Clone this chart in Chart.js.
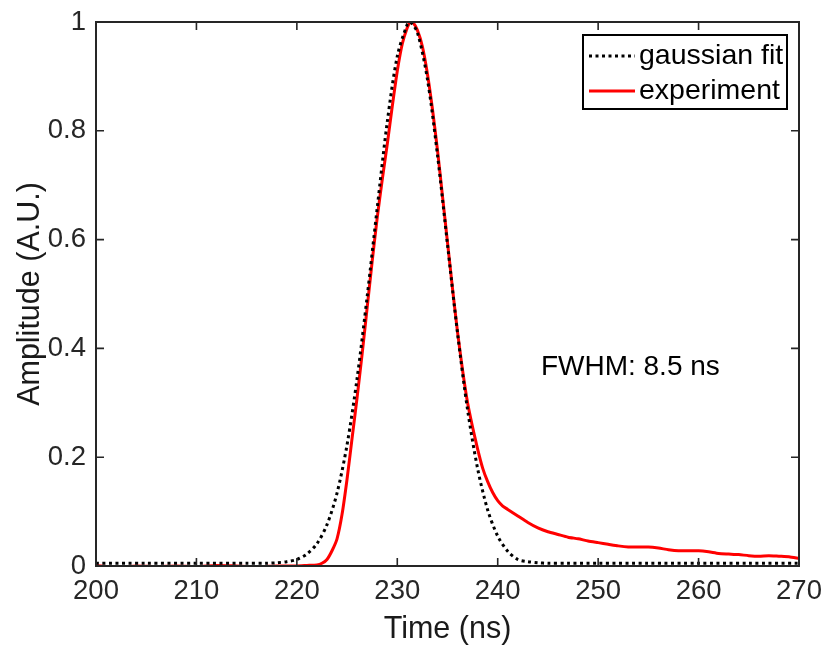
<!DOCTYPE html>
<html>
<head>
<meta charset="utf-8">
<script src="https://cdn.jsdelivr.net/npm/chart.js@4/dist/chart.umd.min.js"></script>
<style>
  html, body { margin: 0; padding: 0; background: #fff; }
  #wrap { width: 825px; height: 651px; }
</style>
</head>
<body>
<div id="wrap"><canvas id="pulseChart" width="825" height="651"></canvas></div>
<script>
const expTime = [200, 202, 204, 206, 208, 210, 212, 214, 216, 218, 220, 221, 222, 222.5, 223, 223.5, 224, 224.5,
  225, 225.5, 226, 226.5, 227, 227.5, 228, 228.5, 229, 229.5, 230, 230.5, 231, 231.3, 231.6, 232, 232.5, 233,
  233.5, 234, 234.5, 235, 235.5, 236, 236.5, 237, 237.5, 238, 238.5, 239, 239.5, 240, 240.5, 241, 242, 243,
  244, 245, 246, 247, 248, 249, 250, 251, 252, 253, 254, 255, 256, 257, 258, 259, 260, 261, 262, 263, 264,
  265, 266, 267, 268, 269, 270];
const expAmp = [0.001, -0.002, 0.000, -0.001, 0.000, -0.001, 0.001, 0.000, -0.001, 0.000, 0.000, 0.001, 0.002, 0.005,
  0.012, 0.028, 0.05, 0.095, 0.16, 0.235, 0.31, 0.39, 0.475, 0.56, 0.64, 0.71, 0.775, 0.845, 0.91, 0.96, 0.99, 1.0,
  0.998, 0.985, 0.955, 0.905, 0.84, 0.765, 0.68, 0.595, 0.51, 0.43, 0.36, 0.30, 0.255, 0.215, 0.18, 0.155, 0.135,
  0.12, 0.11, 0.104, 0.092, 0.08, 0.07, 0.063, 0.058, 0.053, 0.05, 0.046, 0.043, 0.04, 0.037, 0.035, 0.035, 0.035,
  0.033, 0.03, 0.028, 0.028, 0.028, 0.026, 0.023, 0.022, 0.021, 0.019, 0.018, 0.019, 0.018, 0.017, 0.014];

// gaussian fit (black dotted)
const fitTime = [200, 205, 210, 215, 217, 218, 219, 220, 221, 222, 223, 224, 225, 226, 227, 228, 229, 230, 231,
  231.3, 232, 233, 234, 235, 236, 237, 238, 239, 240, 241, 242, 243, 244, 245, 247, 250, 255, 260, 265, 270];
const fitAmp = [0.005, 0.005, 0.005, 0.005, 0.005, 0.006, 0.008, 0.012, 0.022, 0.041, 0.076, 0.134, 0.223, 0.345,
  0.495, 0.658, 0.816, 0.937, 0.996, 1.0, 0.981, 0.895, 0.756, 0.591, 0.428, 0.287, 0.179, 0.103, 0.055, 0.027,
  0.012, 0.008, 0.006, 0.005, 0.005, 0.005, 0.005, 0.005, 0.005, 0.005];

const xTicks = [200, 210, 220, 230, 240, 250, 260, 270];
const yTicks = [0, 0.2, 0.4, 0.6, 0.8, 1];
const yTickLabels = ['0', '0.2', '0.4', '0.6', '0.8', '1'];
const fwhmNote = { x: 244.3, y: 0.366, text: 'FWHM: 8.5 ns' };

const fontFamily = '"Liberation Sans", Arial, Helvetica, sans-serif';
const axisColor = '#262626';

// box, inward ticks, note and legend drawn the MATLAB way
const matlabAxes = {
  id: 'matlabAxes',
  afterDatasetsDraw(chart) {
    const ctx = chart.ctx;
    const { left, right, top, bottom } = chart.chartArea;
    const xs = chart.scales.x, ys = chart.scales.y;
    const tickLen = 8;
    ctx.save();
    ctx.strokeStyle = axisColor;
    ctx.lineWidth = 1.6;
    xTicks.forEach(v => {
      const px = xs.getPixelForValue(v);
      ctx.beginPath();
      ctx.moveTo(px, bottom); ctx.lineTo(px, bottom - tickLen);
      ctx.moveTo(px, top); ctx.lineTo(px, top + tickLen);
      ctx.stroke();
    });
    yTicks.forEach(v => {
      const py = ys.getPixelForValue(v);
      ctx.beginPath();
      ctx.moveTo(left, py); ctx.lineTo(left + tickLen, py);
      ctx.moveTo(right, py); ctx.lineTo(right - tickLen, py);
      ctx.stroke();
    });
    ctx.lineWidth = 2;
    ctx.strokeRect(left, top, right - left, bottom - top);

    // FWHM note
    ctx.fillStyle = '#000';
    ctx.font = '28px ' + fontFamily;
    ctx.textAlign = 'left';
    ctx.textBaseline = 'middle';
    ctx.fillText(fwhmNote.text, xs.getPixelForValue(fwhmNote.x), ys.getPixelForValue(fwhmNote.y));

    // legend box
    const lx = 583, ly = 35, lw = 204, lh = 74;
    ctx.fillStyle = '#fff';
    ctx.fillRect(lx, ly, lw, lh);
    ctx.strokeStyle = '#000';
    ctx.lineWidth = 2;
    ctx.strokeRect(lx, ly, lw, lh);
    const rows = [56, 91];
    chart.data.datasets.forEach((ds, i) => {
      ctx.beginPath();
      ctx.strokeStyle = ds.borderColor;
      ctx.lineWidth = ds.borderWidth;
      ctx.setLineDash(ds.borderDash || []);
      ctx.moveTo(589, rows[i]); ctx.lineTo(635, rows[i]);
      ctx.stroke();
      ctx.setLineDash([]);
      ctx.fillStyle = '#000';
      ctx.font = '28.5px ' + fontFamily;
      ctx.fillText(ds.label, 639, rows[i]);
    });
    ctx.restore();
  }
};

const ctx = document.getElementById('pulseChart').getContext('2d');
new Chart(ctx, {
  type: 'line',
  data: {
    datasets: [{
      label: 'gaussian fit',
      data: fitTime.map((t, i) => ({ x: t, y: fitAmp[i] })),
      borderColor: '#000',
      borderWidth: 3,
      borderDash: [3, 3.5],
      pointRadius: 0,
      tension: 0.3,
      fill: false
    }, {
      label: 'experiment',
      data: expTime.map((t, i) => ({ x: t, y: expAmp[i] })),
      borderColor: '#ff0000',
      borderWidth: 3,
      pointRadius: 0,
      tension: 0.2,
      fill: false
    }]
  },
  options: {
    responsive: false,
    animation: false,
    devicePixelRatio: 1,
    layout: { padding: { top: 22, right: 26, left: 0, bottom: 0 } },
    plugins: { legend: { display: false }, tooltip: { enabled: false } },
    scales: {
      x: {
        type: 'linear',
        min: 200, max: 270,
        grid: { display: false, tickLength: 0 },
        border: { display: false },
        afterBuildTicks: s => { s.ticks = xTicks.map(v => ({ value: v })); },
        afterFit: s => { s.height = 85; s.paddingLeft = 0; s.paddingRight = 0; },
        ticks: { color: axisColor, padding: 9, maxRotation: 0, font: { family: fontFamily, size: 27.5 } },
        title: { display: true, text: 'Time (ns)', color: '#1a1a1a', padding: { top: 0, bottom: 3 },
          font: { family: fontFamily, size: 30.5 } }
      },
      y: {
        min: 0, max: 1,
        grid: { display: false, tickLength: 0 },
        border: { display: false },
        afterBuildTicks: s => { s.ticks = yTicks.map(v => ({ value: v })); },
        afterFit: s => { s.width = 96; s.paddingTop = 0; s.paddingBottom = 0; },
        ticks: {
          color: axisColor, padding: 10, font: { family: fontFamily, size: 27.5 },
          callback: (v, i) => yTickLabels[i]
        },
        title: { display: true, text: 'Amplitude (A.U.)', color: '#1a1a1a', padding: { top: 12, bottom: 0 },
          font: { family: fontFamily, size: 30.5 } }
      }
    }
  },
  plugins: [matlabAxes]
});
</script>
</body>
</html>
